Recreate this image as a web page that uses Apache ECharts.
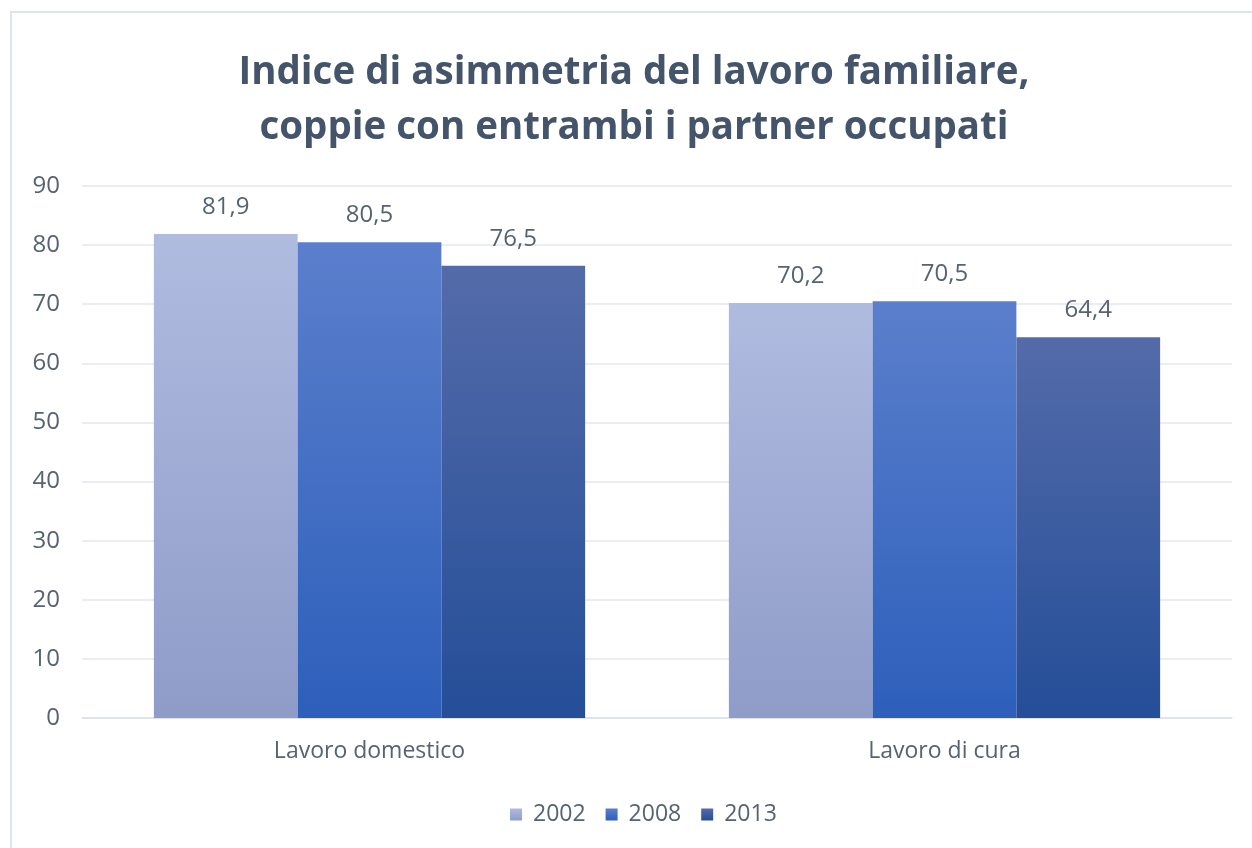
<!DOCTYPE html>
<html>
<head>
<meta charset="utf-8">
<script src="https://cdn.jsdelivr.net/npm/echarts@6/dist/echarts.min.js"></script>
<style>
  html, body { margin: 0; padding: 0; background: #fff; }
  #chart { width: 1252px; height: 848px; }
</style>
</head>
<body>
<div id="chart"></div>
<script>
  // ==== dati ====
  const categories = ['Lavoro domestico', 'Lavoro di cura']
  const years = ['2002', '2008', '2013']
  const values2002 = [81.9, 70.2]
  const values2008 = [80.5, 70.5]
  const values2013 = [76.5, 64.4]
  const yTicks = [0, 10, 20, 30, 40, 50, 60, 70, 80, 90]

  const gradients = [
    ['#b0bbe0', '#8f9cc8'],
    ['#5b7fcc', '#2d5fbb'],
    ['#546ba9', '#244e98']
  ]

  const grad = (pair) =>
    new echarts.graphic.LinearGradient(0, 0, 0, 1, [
      { offset: 0, color: pair[0] },
      { offset: 1, color: pair[1] }
    ])

  const fontFamily = 'Open Sans, sans-serif'
  const textColor = '#576273'

  const chart = echarts.init(document.getElementById('chart'))

  const makeSeries = (name, data, idx) => ({
    name,
    type: 'bar',
    data,
    barGap: '0%',
    barCategoryGap: '25%',
    itemStyle: { color: grad(gradients[idx]) },
    label: {
      show: true,
      position: 'top',
      distance: 15,
      color: textColor,
      fontSize: 24,
      fontFamily,
      formatter: (p) => p.value.toFixed(1).replace('.', ',')
    }
  })

  // titolo su due righe, centrato a mano
  const titleLine = (text, y) => ({
    type: 'text',
    left: null,
    x: 634,
    y,
    silent: true,
    style: {
      text,
      fontSize: 38.5,
      fontWeight: 'bold',
      fontFamily,
      fill: '#44546a',
      align: 'center',
      verticalAlign: 'middle'
    }
  })

  chart.setOption({
    animation: false,
    legend: {
      bottom: 17,
      left: 505,
      itemWidth: 12,
      itemHeight: 12,
      itemGap: 20,
      icon: 'rect',
      textStyle: { fontSize: 23, color: textColor, fontFamily, padding: [0, 0, 0, 6] },
      data: years.map((y, i) => ({ name: y, itemStyle: { color: grad(gradients[i]) } }))
    },
    grid: { left: 82, right: 20, top: 186, bottom: 130 },
    xAxis: {
      type: 'category',
      data: categories,
      axisTick: { show: false },
      axisLine: { lineStyle: { color: '#dce1ea', width: 1.5 } },
      axisLabel: { fontSize: 23, color: textColor, margin: 22, fontFamily }
    },
    yAxis: {
      type: 'value',
      min: yTicks[0],
      max: yTicks[yTicks.length - 1],
      interval: 10,
      axisLine: { show: false },
      axisTick: { show: false },
      axisLabel: { fontSize: 24, color: textColor, margin: 22, fontFamily },
      splitLine: { lineStyle: { color: '#e3e7ee', width: 1.5 } }
    },
    graphic: [
      {
        type: 'rect',
        shape: { x: 11, y: 12, width: 1260, height: 860 },
        style: { fill: 'none', stroke: '#dde4ef', lineWidth: 2 },
        silent: true
      },
      titleLine('Indice di asimmetria del lavoro familiare,', 73),
      titleLine('coppie con entrambi i partner occupati', 128)
    ],
    series: [
      makeSeries(years[0], values2002, 0),
      makeSeries(years[1], values2008, 1),
      makeSeries(years[2], values2013, 2)
    ]
  })
</script>
</body>
</html>
